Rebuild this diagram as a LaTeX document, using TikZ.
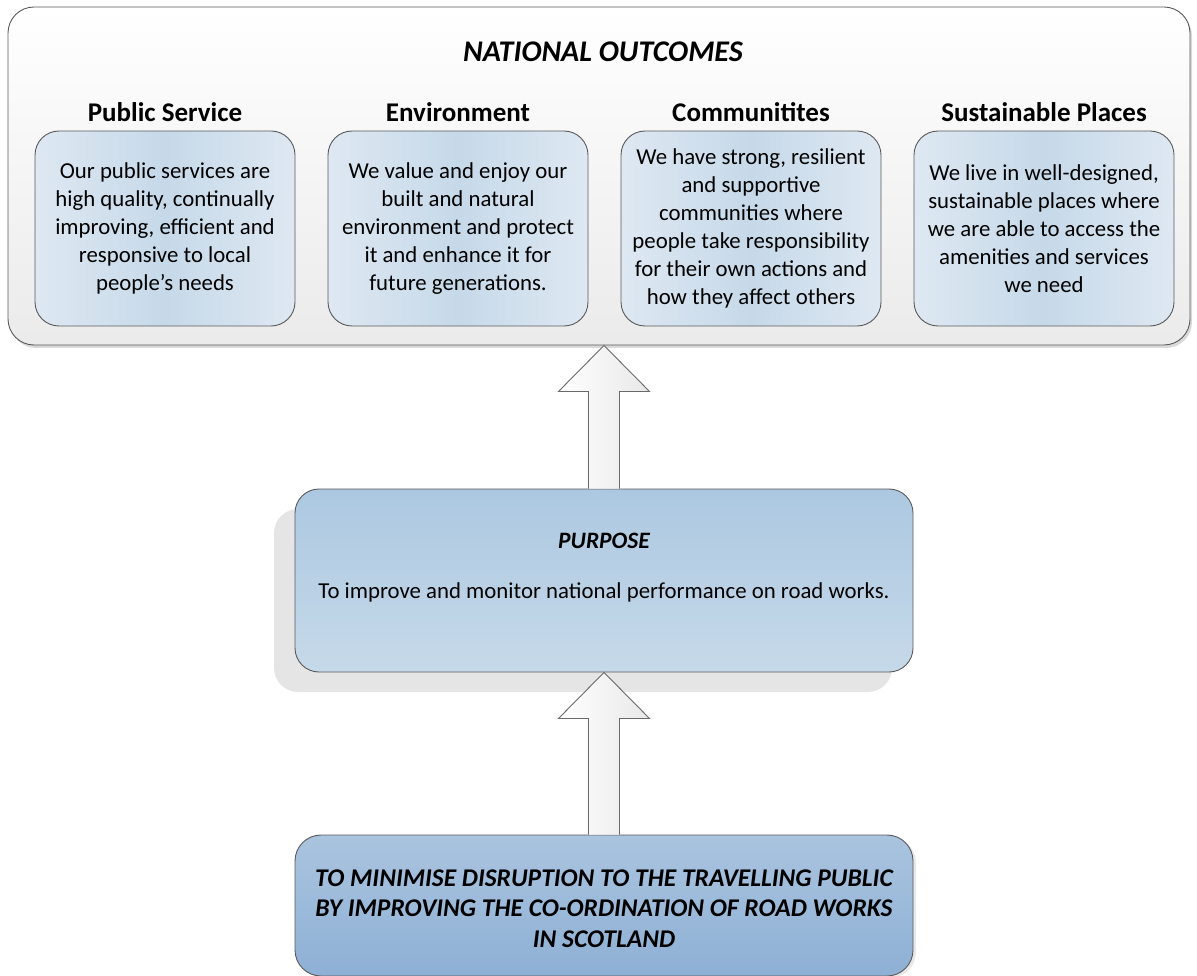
\documentclass[tikz,border=0pt]{standalone}
\usepackage{fontspec}
\setmainfont{Carlito}
\usetikzlibrary{positioning, calc}
\usetikzlibrary{shadows}

\tikzset{
    outcomebox/.style={draw=boxline, line width=0.9pt, rounded corners=24pt,
        minimum width=260pt, minimum height=195pt, inner sep=0pt,
        left color=outcomeside, right color=outcomeside, middle color=outcomemid,
        align=center, font=\fontsize{22.8}{27.9}\selectfont},
    heading/.style={font=\bfseries\fontsize{27}{32}\selectfont},
    uparrow/.style={draw=arrowline, line width=0.9pt, left color=white, right color=arrowside},
}

\begin{document}
\begin{tikzpicture}[x=1pt, y=-1pt]

            % Цвета
            \definecolor{boxline}{RGB}{90,90,90}
            \definecolor{arrowline}{RGB}{105,105,105}
            \definecolor{arrowside}{RGB}{232,232,232}
            \definecolor{outcomeside}{RGB}{222,232,242}
            \definecolor{outcomemid}{RGB}{198,217,233}
            \definecolor{purposetop}{RGB}{172,200,225}
            \definecolor{purposebot}{RGB}{198,217,233}
            \definecolor{goaltop}{RGB}{170,196,223}
            \definecolor{goalbot}{RGB}{142,176,213}
            \definecolor{shadowgray}{RGB}{229,229,229}

            \useasboundingbox (0,0) rectangle (1197,976);

            % Большая рамка сверху
            \node[draw=boxline, line width=0.9pt, rounded corners=26pt,
                  minimum width=1182pt, minimum height=338pt,
                  top color=white, bottom color=black!8,
                  drop shadow={shadow xshift=2pt, shadow yshift=-3pt, fill=black!25, opacity=0.6}]
                  (outcomes) at (599,176) {};
            \node[font=\bfseries\itshape\fontsize{30}{36}\selectfont] (title) at (603,52) {NATIONAL OUTCOMES};

            % Заголовки над карточками
            \node[heading] (publichead) at (165,112) {Public Service};
            \node[heading] (envhead) at (458,112) {Environment};
            \node[heading] (commhead) at (751,112) {Communitites};
            \node[heading] (placehead) at (1044,112) {Sustainable Places};

            % Карточки
            \node[outcomebox] (public) at (165,228.5) {Our public services are\\high quality, continually\\improving, efficient and\\responsive to local\\people’s needs};
            \node[outcomebox] (env) at (458,228.5) {We value and enjoy our\\built and natural\\environment and protect\\it and enhance it for\\future generations.};
            \node[outcomebox] (comm) at (751,228.5) {We have strong, resilient\\and supportive\\communities where\\people take responsibility\\for their own actions and\\how they affect others};
            \node[outcomebox] (place) at (1044,228.5) {We live in well-designed,\\sustainable places where\\we are able to access the\\amenities and services\\we need};

            % Цель
            \node[draw=boxline, line width=0.9pt, rounded corners=24pt,
                  minimum width=618pt, minimum height=183pt,
                  shading angle=135, shading=axis, top color=purposetop, bottom color=purposebot,
                  drop shadow={shadow xshift=-21pt, shadow yshift=-20pt, fill=shadowgray, opacity=1}]
                  (purpose) at (604,580.5) {};
            \node[font=\bfseries\itshape\fontsize{23.5}{28}\selectfont] (purposetitle) at (604,541) {PURPOSE};
            \node[font=\fontsize{22.8}{27.7}\selectfont] (purposetext) at (604,592) {To improve and monitor national performance on road works.};

            % Нижняя рамка
            \node[draw=boxline, line width=0.9pt, rounded corners=26pt,
                  minimum width=618pt, minimum height=141pt,
                  top color=goaltop, bottom color=goalbot, align=center,
                  font=\bfseries\itshape\fontsize{25.5}{30.5}\selectfont,
                  drop shadow={shadow xshift=3pt, shadow yshift=-2pt, fill=black!15, opacity=0.6}]
                  (goal) at (604,905.5) {};
            \node[align=center, font=\bfseries\itshape\fontsize{25.5}{30.5}\selectfont]
                  (goaltext) at (604,908.5) {TO MINIMISE DISRUPTION TO THE TRAVELLING PUBLIC\\BY IMPROVING THE CO-ORDINATION OF ROAD WORKS\\IN SCOTLAND};

            % Стрелки вверх
            \coordinate (tipone) at (purpose.north |- outcomes.south);
            \draw[uparrow] ($(purpose.north)+(-15.5,0)$) |- ($(tipone)+(-45.5,46)$) -- (tipone)
                -- ($(tipone)+(45.5,46)$) -| ($(purpose.north)+(15.5,0)$);
            \coordinate (tiptwo) at (purpose.south);
            \draw[uparrow] ($(goal.north)+(-15.5,0)$) |- ($(tiptwo)+(-45.5,46)$) -- (tiptwo)
                -- ($(tiptwo)+(45.5,46)$) -| ($(goal.north)+(15.5,0)$);

        \end{tikzpicture}
\end{document}
